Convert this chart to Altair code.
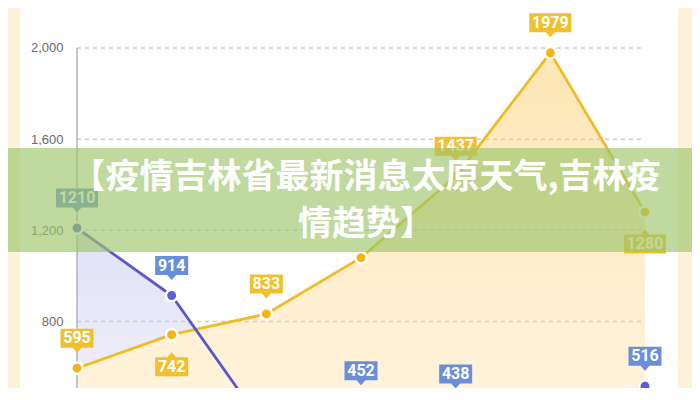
import altair as alt
import pandas as pd

# ---------------- data ----------------
x_index = [0, 1, 2, 3, 4, 5, 6]
yellow_values = [595, 742, 833, 1080, 1437, 1979, 1280]
blue_values = [1210, 914, 327, 452, 438, 331, 516]
yellow_labels = ["595", "742", "833", "", "1437", "1979", "1280"]
blue_labels = ["1210", "914", "327", "452", "438", "331", "516"]
y_ticks = [800, 1200, 1600, 2000]
title_line1 = "【疫情吉林省最新消息太原天气,吉林疫"
title_line2 = "情趋势】"

# label placement option (which yellow labels sit under their point)
YELLOW_BELOW = {1, 6}

# ---------------- styles ----------------
W, H = 568, 380
Y_DOMAIN = [508.2, 2175.5]
YELLOW_LINE = "#f0bc26"
YELLOW_DOT = "#f4b414"
YELLOW_BOX = "#f1c02c"
BLUE_LINE = "#5859c8"
BLUE_DOT = "#5b5fd3"
BLUE_BOX = "#6a8fd8"
CREAM = "#fdf1da"


def box_path(text, side):
    h = 1.65 if len(text) <= 3 else 2.1
    if side == "above":
        return f"M{-h},-3.95H{h}V-2.05H0.45L0,-1.55L-0.45,-2.05H{-h}Z"
    return f"M{-h},2.25H-0.45L0,1.75L0.45,2.25H{h}V4.15H{-h}Z"


rows = []
for i, (x, v, lab) in enumerate(zip(x_index, yellow_values, yellow_labels)):
    side = "below" if i in YELLOW_BELOW else "above"
    rows.append({"series": "yellow", "x": x, "value": v, "label": lab,
                 "side": side, "path": box_path(lab, side)})
for i, (x, v, lab) in enumerate(zip(x_index, blue_values, blue_labels)):
    rows.append({"series": "blue", "x": x, "value": v, "label": lab,
                 "side": "above", "path": box_path(lab, "above")})
df = pd.DataFrame(rows)

xscale = alt.Scale(domain=[0, 6], nice=False, zero=False)
yscale = alt.Scale(domain=Y_DOMAIN, nice=False, zero=False)
yaxis = alt.Axis(values=y_ticks, format=",.0f", grid=False, domain=False, ticks=False,
                 labelPadding=14, labelFont="Liberation Sans", labelFontSize=13,
                 labelColor="#6b6b6b", title=None)
X = alt.X("x:Q", scale=xscale, axis=None)
Y = alt.Y("value:Q", scale=yscale, axis=yaxis)

base = alt.Chart(df)
yellow = base.transform_filter(alt.datum.series == "yellow")
blue = base.transform_filter(alt.datum.series == "blue")

deco = alt.Data(values=[{"a": 1}])

left_strip = alt.Chart(deco).mark_rect(color=CREAM).encode(
    x=alt.value(-69), x2=alt.value(-57), y=alt.value(0), y2=alt.value(H))
right_strip = alt.Chart(deco).mark_rect(color=CREAM).encode(
    x=alt.value(601), x2=alt.value(615), y=alt.value(0), y2=alt.value(H))

blue_grad = alt.Gradient(gradient="linear", x1=1, x2=1, y1=0, y2=1,
                         stops=[alt.GradientStop(color="#e1e1f7", offset=0),
                                alt.GradientStop(color="#f8f8fd", offset=1)])
yellow_grad = alt.Gradient(gradient="linear", x1=1, x2=1, y1=0, y2=1,
                           stops=[alt.GradientStop(color="#fde6b4", offset=0),
                                  alt.GradientStop(color="#fff7e8", offset=1)])

blue_area = blue.mark_area(color=blue_grad, opacity=1).encode(x=X, y=Y, y2=alt.value(H))
yellow_area = yellow.mark_area(color=yellow_grad, opacity=1).encode(x=X, y=Y, y2=alt.value(H))

grid = alt.Chart(pd.DataFrame({"value": y_ticks})).mark_rule(
    color="#cdcdcd", strokeWidth=1.5, strokeDash=[4, 4]).encode(
    y=Y, x=alt.value(0), x2=alt.value(W))
axis_line = alt.Chart(pd.DataFrame({"value": [max(y_ticks)]})).mark_rule(
    color="#b3b3b3", strokeWidth=1.5).encode(x=alt.value(0), y=Y, y2=alt.value(H))

yellow_line = yellow.mark_line(color=YELLOW_LINE, strokeWidth=2.8).encode(x=X, y=Y)
blue_line = blue.mark_line(color=BLUE_LINE, strokeWidth=2.8).encode(x=X, y=Y)

yellow_pts = yellow.mark_circle(size=130, color=YELLOW_DOT, opacity=1,
                                stroke="white", strokeWidth=2.5).encode(x=X, y=Y)
blue_pts = blue.mark_circle(size=130, color=BLUE_DOT, opacity=1,
                            stroke="white", strokeWidth=2.5).encode(x=X, y=Y)

shape_enc = alt.Shape("path:N", scale=None, legend=None)
yellow_boxes = yellow.transform_filter(alt.datum.label != "").mark_point(
    filled=True, opacity=1, size=400, strokeWidth=0, color=YELLOW_BOX).encode(
    x=X, y=Y, shape=shape_enc)
blue_boxes = blue.mark_point(
    filled=True, opacity=1, size=400, strokeWidth=0, color=BLUE_BOX).encode(
    x=X, y=Y, shape=shape_enc)

label_font = dict(font="Roboto", fontSize=16, fontWeight="bold",
                  color="white", baseline="middle", align="center")
labels_above = base.transform_filter(
    (alt.datum.side == "above") & (alt.datum.label != "")).mark_text(
    dy=-30, **label_font).encode(x=X, y=Y, text="label:N")
labels_below = base.transform_filter(
    (alt.datum.side == "below") & (alt.datum.label != "")).mark_text(
    dy=32, **label_font).encode(x=X, y=Y, text="label:N")

banner = alt.Chart(deco).mark_rect(color="#9cc46a", opacity=0.65).encode(
    x=alt.value(-69), x2=alt.value(615), y=alt.value(140), y2=alt.value(244))
title_font = dict(font="Noto Sans CJK SC", fontSize=34, fontWeight="bold",
                  color="white", align="center", baseline="middle")
banner_t1 = alt.Chart(deco).mark_text(**title_font).encode(
    x=alt.value(289), y=alt.value(170), text=alt.value(title_line1))
banner_t2 = alt.Chart(deco).mark_text(**title_font).encode(
    x=alt.value(289), y=alt.value(217), text=alt.value(title_line2))

chart = alt.layer(
    left_strip, right_strip,
    blue_area, yellow_area,
    grid, axis_line,
    yellow_line, blue_line,
    yellow_pts, blue_pts,
    yellow_boxes, blue_boxes,
    labels_above, labels_below,
    banner, banner_t1, banner_t2,
).properties(
    width=W, height=H,
    autosize=alt.AutoSizeParams(type="none"),
    padding={"left": 69, "top": 0, "right": 47, "bottom": 0},
    background="white",
).configure_view(stroke=None)

chart.save("out.html", embed_options={"renderer": "svg", "actions": False})
